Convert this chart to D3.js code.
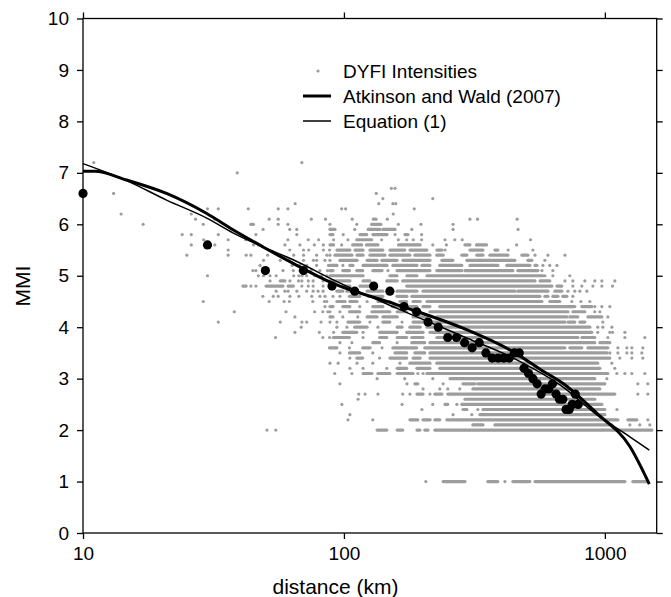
<!DOCTYPE html>
<html>
<head>
<meta charset="utf-8">
<script src="https://cdn.jsdelivr.net/npm/d3@7"></script>
<style>
body { margin: 0; background: #fff; }
svg text { font-family: "Liberation Sans", Arial, Helvetica, sans-serif; }
</style>
</head>
<body>
<svg id="chart" width="671" height="597"></svg>
<script>
// tick values
const distTicks = [10, 100, 1000];
const mmiTicks = [0, 1, 2, 3, 4, 5, 6, 7, 8, 9, 10];

// binned means (big black dots)
const binDist = [10, 30, 50, 70, 90, 110, 130, 150, 170, 190, 210, 230, 250, 270, 290, 310, 330, 350, 370, 390,
  410, 430, 450, 470, 490, 510, 530, 550, 570, 590, 610, 630, 650, 670, 690, 710, 730, 750, 770, 790];
const binMmi = [6.6, 5.6, 5.1, 5.1, 4.8, 4.7, 4.8, 4.7, 4.4, 4.3, 4.1, 4.0, 3.8, 3.8, 3.7, 3.6, 3.7, 3.5, 3.4, 3.4,
  3.4, 3.4, 3.5, 3.5, 3.2, 3.1, 3.0, 2.9, 2.7, 2.8, 2.8, 2.9, 2.7, 2.6, 2.6, 2.4, 2.4, 2.5, 2.7, 2.5];

// Atkinson and Wald (2007)
const awDist = [10, 11.1, 14.7, 20.9, 29.8, 37.7, 49, 63.9, 91, 159, 286, 446, 570, 690, 930, 1247, 1480];
const awMmi = [7.03, 7.03, 6.86, 6.60, 6.21, 5.89, 5.56, 5.24, 4.85, 4.44, 3.98, 3.52, 3.17, 2.91, 2.33, 1.68, 0.95];

// Equation (1)
const eqDist = [10, 14.7, 20.9, 29.8, 37.7, 49, 63.9, 91, 159, 286, 446, 690, 930, 1247, 1480];
const eqMmi = [7.18, 6.85, 6.47, 6.12, 5.83, 5.56, 5.31, 4.92, 4.37, 3.82, 3.40, 2.84, 2.30, 1.87, 1.61];

// DYFI intensities: per MMI row, single reports [km] or runs of overlapping reports [from km, to km]
const dyfiRows = [
  [7.2, [[11], [69]]],
  [7.0, [[39]]],
  [6.7, [[152], [157]]],
  [6.6, [[13.1], [133]]],
  [6.5, [[141], [219]]],
  [6.4, [[65], [136], [154], [158]]],
  [6.3, [[30], [33], [43], [56], [61], [98], [101.5], [186]]],
  [6.2, [[14], [26], [154.5]]],
  [6.1, [[27], [32], [51.7], [56], [75], [85], [107.6], [129.6, 132.8], [146.6], [304], [325], [461]]],
  [6.0, [[17], [28.9], [44, 45], [56], [61], [88.4], [112], [127.7, 138.6], [161.6], [197.3], [262]]],
  [5.9, [[49], [62], [66], [88.4, 92.4], [110], [123.8, 137.4], [141, 157], [182], [262], [465]]],
  [5.8, [[24], [26], [33], [46], [66], [88.4, 90.8], [99.4], [115.2, 122.3], [129.2, 146.2], [157], [171.3, 176], [198.5]]],
  [5.7, [[29], [36], [42], [61], [73], [80], [91.3], [103.6], [112, 127.7], [139.5], [161.6], [174], [184.4], [198.5], [244], [266], [284], [519]]],
  [5.6, [[26], [32], [45], [47], [59.4], [67.8], [77], [83.4], [88.4, 91.3], [98], [108, 117], [122, 135], [162, 196], [219], [247], [291, 304], [322, 352], [459]]],
  [5.5, [[36], [62], [70], [73.3], [83.4], [88.1], [94, 105.4], [110.3, 118.4], [125.8, 141], [150, 171], [179, 208], [227, 237.5], [244], [304, 341], [379, 389], [426], [530]]],
  [5.4, [[25], [36], [42.2], [44], [51], [64.2], [70], [78.6], [86], [88.4], [92.4, 107.3], [112.3, 118.4], [125.8, 143.6], [150, 179], [187, 213.6], [227, 240], [283, 296], [323, 341], [362.6, 425], [481, 507], [540], [605], [703]]],
  [5.3, [[49.2], [57], [61.3], [70], [76.4], [78.6], [84.6], [88.4], [96.5, 112.3], [122.7, 134], [139.8, 159.7], [168.3, 213.6], [237.5, 261.6], [296, 452], [507, 525], [589]]],
  [5.2, [[47.7], [63.3], [67.8], [72], [78.6], [87.3], [88.4, 94], [99.1], [105.4, 108.3], [118.4, 146.2], [154, 190.5], [199, 213.6], [233, 283], [304, 389], [421, 516], [540, 549], [579], [615], [655]]],
  [5.1, [[44.8], [46], [49.8], [58.4], [64], [67.8], [74.8], [80.9], [86.5], [88.4, 90.8], [99, 105], [112, 118], [129, 140], [147.5], [159.7, 213.6], [227, 283], [291, 444], [464, 554], [574], [632]]],
  [5.0, [[30], [47], [49.2], [52.1], [55], [64.2], [67.2], [69], [72], [77.4], [82.2], [86], [88.4, 118.4], [150, 159.7], [174.4, 190.5], [208, 579], [589], [632], [734]]],
  [4.9, [[52.1], [57, 59.4], [62.1], [67], [69], [73], [76.2], [83.2], [88.4, 105.4], [118.4, 125.8], [146, 160], [168, 540], [564, 615], [703], [754], [838], [915], [974], [1092]]],
  [4.8, [[41, 42.2], [44], [46], [50.3, 58.4], [61.1, 64], [69], [73], [76.2], [83.2], [89.9], [99, 105.4], [115, 126], [174, 627], [655, 684], [754], [816], [900], [974], [1070]]],
  [4.7, [[55], [59.4], [61.1], [66], [72], [76.2], [79.6], [83.2], [94, 99], [102.7, 105.4], [122.7, 141], [159.7, 190.5], [200.8, 452], [464, 605], [643, 684], [722], [767], [802], [853]]],
  [4.6, [[48.9], [53.6], [56], [62.1], [67.2], [75.3], [80.9], [84.6], [90.8], [96.5], [105, 115], [123.8, 141], [159.7, 174.4], [182, 564], [589, 605], [632, 661], [690, 715], [754]]],
  [4.5, [[28.9], [51.7], [59], [61.8], [76], [84.2], [86], [94, 101], [105.4, 112.3], [122.7], [135, 150], [164, 174], [184, 196], [208, 574], [615, 672], [747], [809], [876]]],
  [4.4, [[84.6], [88.4, 90.8], [99, 105.4], [115], [129, 141], [153, 164], [179, 190.5], [200.8, 213.6], [233, 767], [816, 891], [915], [974], [1045]]],
  [4.3, [[38], [60], [77.2], [83], [86.8], [88.4], [96.5], [105, 115], [128, 150], [160, 174], [184, 196], [213.6, 722], [754, 838], [915], [957]]],
  [4.2, [[64.9], [88.4, 90.8], [99], [113], [122.7, 134], [141, 160], [184, 208], [227, 715], [734, 788], [861, 974], [1027]]],
  [4.1, [[33], [57], [69], [72], [81.7], [88.4], [94], [103.6, 115], [125.8], [141, 150], [167], [184, 201], [213.6, 703], [722, 767], [802, 838], [982]]],
  [4.0, [[68.6], [94], [102.7], [110, 122.7], [135], [160, 167], [179, 196], [208, 876], [939], [982], [1064]]],
  [3.9, [[64.9], [80.5], [91.3], [99, 112], [118.4], [137, 160], [174, 201], [213.6, 891], [939], [1045], [1070], [1193]]],
  [3.8, [[54.7], [83], [88.1], [91, 105], [118.4], [137, 146], [160, 174], [182, 201], [227, 788], [816, 915], [1027], [1193], [1423]]],
  [3.7, [[96.5], [107.3], [129, 137], [160], [182, 204], [213.6, 915], [957, 1045]]],
  [3.6, [[88, 94], [105], [118, 126], [140], [154, 190], [204, 703], [734, 816], [861, 1027], [1122], [1214], [1269], [1398]]],
  [3.5, [[96.5], [105, 115], [129], [157, 174], [187, 204], [213.6, 1018], [1045], [1122], [1214], [1269], [1386]]],
  [3.4, [[105.4], [112, 118], [137], [150, 174], [184, 196], [213.6, 1045], [1141], [1269], [1398]]],
  [3.3, [[88.4], [95], [112.3], [129], [164], [179, 213.6], [227, 939], [1064]]],
  [3.2, [[105.4], [118.4], [146], [160, 174], [190.5, 213.6], [233, 957], [1092]]],
  [3.1, [[92.2], [107.3], [118.4, 128], [135, 150], [160, 184], [192], [201], [208, 1027], [1112], [1193], [1269], [1423]]],
  [3.0, [[134], [171], [219], [255, 915], [1018]]],
  [2.9, [[96.5], [174.4], [187, 192], [240], [286, 318], [326, 1000], [1338], [1461]]],
  [2.8, [[201], [233], [250], [278], [312, 957]]],
  [2.7, [[114], [120.5], [135], [168], [179], [190.5, 201], [213.6], [223, 237.5], [250, 1092], [1338], [1461]]],
  [2.6, [[113.3], [291, 915]]],
  [2.5, [[98.2], [167], [219], [244, 250], [271], [283, 974]]],
  [2.4, [[199], [286, 296], [326], [341, 1000], [1112]]],
  [2.3, [[105.4], [262], [309], [332, 1000]]],
  [2.2, [[103.6], [129], [179, 192], [201, 214], [223, 233], [248, 1122], [1225, 1326], [1461]]],
  [2.1, [[312, 341], [379, 1064], [1247], [1361], [1487]]],
  [2.0, [[50.7], [54.8], [134, 146], [160, 168], [190.5, 195.6], [204, 210], [223, 1514]]],
  [1.0, [[206], [240, 291], [356, 389], [414], [444, 516], [540, 1193], [1280, 1461]]]
];

const legendNames = ["DYFI Intensities", "Atkinson and Wald (2007)", "Equation (1)"];

const padL = 83, padT = 18.5, padR = 656.7, padB = 533;
const grey = "#9d9d9d";

const svg = d3.select("#chart");

const x = d3.scaleLog().domain([10, 1580]).range([padL, padR]);
const y = d3.scaleLinear().domain([0, 10]).range([padB, padT]);

const segs = dyfiRows.flatMap(([m, runs]) => runs.map(r => ({ m: m, a: r[0], b: r[r.length - 1] })));

const dots = svg.append("g");
dots.selectAll("line")
  .data(segs.filter(s => s.a !== s.b))
  .join("line")
  .attr("x1", d => x(d.a))
  .attr("x2", d => x(d.b))
  .attr("y1", d => y(d.m))
  .attr("y2", d => y(d.m))
  .attr("stroke", grey)
  .attr("stroke-width", 3.2)
  .attr("stroke-linecap", "round");
dots.selectAll("circle")
  .data(segs.filter(s => s.a === s.b))
  .join("circle")
  .attr("cx", d => x(d.a))
  .attr("cy", d => y(d.m))
  .attr("r", 1.6)
  .attr("fill", grey);

// binned means
svg.append("g")
  .selectAll("circle")
  .data(binDist.map((d, i) => ({ d: d, m: binMmi[i] })))
  .join("circle")
  .attr("cx", d => x(d.d))
  .attr("cy", d => y(d.m))
  .attr("r", 4.6)
  .attr("fill", "#000");

const line = d3.line()
  .x(d => x(d[0]))
  .y(d => y(d[1]))
  .curve(d3.curveMonotoneX);

svg.append("path")
  .attr("d", line(awDist.map((d, i) => [d, awMmi[i]])))
  .attr("fill", "none")
  .attr("stroke", "#000")
  .attr("stroke-width", 3);

svg.append("path")
  .attr("d", line(eqDist.map((d, i) => [d, eqMmi[i]])))
  .attr("fill", "none")
  .attr("stroke", "#000")
  .attr("stroke-width", 1.5);

// frame
svg.append("rect")
  .attr("x", padL).attr("y", padT)
  .attr("width", padR - padL).attr("height", padB - padT)
  .attr("fill", "none")
  .attr("stroke", "#000")
  .attr("stroke-width", 1.3);

function styleAxis(g) {
  g.select(".domain").remove();
  g.selectAll("line").attr("stroke-width", 1.3);
  g.attr("font-family", "Liberation Sans, Arial, sans-serif").attr("font-size", 19);
  g.selectAll("text").attr("fill", "#000");
}

svg.append("g")
  .attr("transform", `translate(${padL},0)`)
  .call(d3.axisLeft(y).tickValues(mmiTicks).tickSize(6).tickSizeOuter(0).tickPadding(8).tickFormat(d3.format("d")))
  .call(styleAxis);

svg.append("g")
  .attr("transform", `translate(${padR},0)`)
  .call(d3.axisRight(y).tickValues(mmiTicks).tickSize(6).tickSizeOuter(0).tickFormat(""))
  .call(styleAxis);

svg.append("g")
  .attr("transform", `translate(0,${padB})`)
  .call(d3.axisBottom(x).tickValues(distTicks).tickSize(6).tickSizeOuter(0).tickPadding(8).tickFormat(d3.format("d")))
  .call(styleAxis);

svg.append("g")
  .attr("transform", `translate(0,${padT})`)
  .call(d3.axisTop(x).tickValues(distTicks).tickSize(6).tickSizeOuter(0).tickFormat(""))
  .call(styleAxis);

// axis titles
svg.append("text")
  .attr("x", 335.5)
  .attr("y", 594)
  .attr("text-anchor", "middle")
  .attr("font-size", 21)
  .text("distance (km)");

svg.append("text")
  .attr("transform", "translate(30,286) rotate(-90)")
  .attr("text-anchor", "middle")
  .attr("font-size", 21)
  .text("MMI");

// legend
const legend = svg.append("g");
const legY = [71, 96, 121];
legend.append("circle").attr("cx", 318).attr("cy", legY[0]).attr("r", 1.6).attr("fill", grey);
legend.append("line").attr("x1", 303).attr("x2", 331).attr("y1", legY[1]).attr("y2", legY[1])
  .attr("stroke", "#000").attr("stroke-width", 3);
legend.append("line").attr("x1", 303).attr("x2", 331).attr("y1", legY[2]).attr("y2", legY[2])
  .attr("stroke", "#000").attr("stroke-width", 1.5);
legend.selectAll("text")
  .data(legendNames)
  .join("text")
  .attr("x", 343)
  .attr("y", (d, i) => legY[i])
  .attr("dy", "0.36em")
  .attr("font-size", 19)
  .text(d => d);
</script>
</body>
</html>
